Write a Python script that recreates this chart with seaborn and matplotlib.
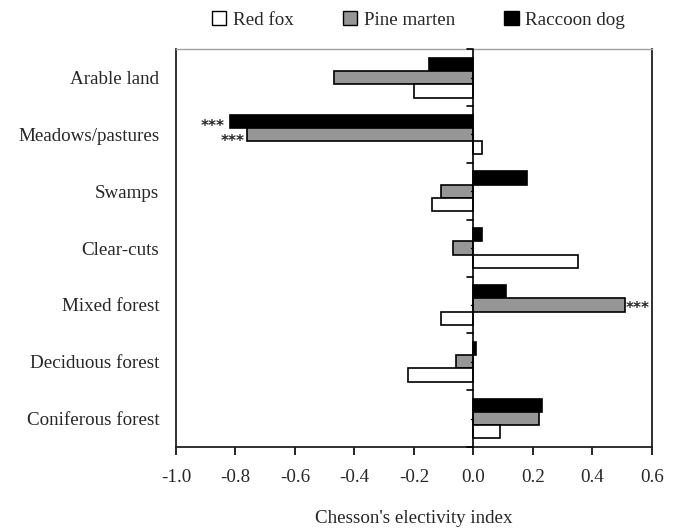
import pandas as pd
import seaborn as sns
import matplotlib.pyplot as plt
from matplotlib.patches import Patch

# habitat categories (top to bottom)
habitats = ['Arable land', 'Meadows/pastures', 'Swamps', 'Clear-cuts',
            'Mixed forest', 'Deciduous forest', 'Coniferous forest']
red_fox = [-0.20, 0.03, -0.14, 0.35, -0.11, -0.22, 0.09]
pine_marten = [-0.47, -0.76, -0.11, -0.07, 0.51, -0.06, 0.22]
raccoon_dog = [-0.15, -0.82, 0.18, 0.03, 0.11, 0.01, 0.23]

species = ['Raccoon dog', 'Pine marten', 'Red fox']
colors = {'Red fox': 'white', 'Pine marten': '#969696', 'Raccoon dog': 'black'}

df = pd.DataFrame({
    'habitat': habitats * 3,
    'species': ['Raccoon dog'] * 7 + ['Pine marten'] * 7 + ['Red fox'] * 7,
    'index': raccoon_dog + pine_marten + red_fox,
})

sns.set_style('white')
plt.rcParams['font.family'] = ['Liberation Serif', 'DejaVu Serif']
fs = 13.7

fig = plt.figure(figsize=(6.8, 5.29), dpi=100)
ax = fig.add_axes([0.2588, 0.155, 0.70, 0.752])

sns.barplot(data=df, x='index', y='habitat', hue='species', order=habitats,
            hue_order=species, palette=colors, width=0.7, orient='h',
            edgecolor='black', linewidth=1.2, legend=False, ax=ax)

ax.set_xlim(-1.0, 0.6)
ax.set_ylim(len(habitats) - 0.5, -0.5)
ax.set_xticks([-1.0, -0.8, -0.6, -0.4, -0.2, 0.0, 0.2, 0.4, 0.6])
ax.set_xticklabels(['-1.0', '-0.8', '-0.6', '-0.4', '-0.2', '0.0', '0.2', '0.4', '0.6'])
ax.tick_params(axis='x', direction='out', length=6, width=1.2, color='black',
               labelsize=fs, pad=10, bottom=True)
ax.tick_params(axis='y', length=0, labelsize=fs, pad=12)
ax.set_xlabel("Chesson's electivity index", fontsize=fs, labelpad=17)
ax.set_ylabel('')

# zero line with category ticks
ax.axvline(0, color='black', lw=1.2, zorder=3)
for k in range(len(habitats) + 1):
    ax.plot([-0.022, 0], [k - 0.5, k - 0.5], color='black', lw=1.2, clip_on=False, zorder=3)
for k in range(len(habitats)):
    ax.plot([-0.01, 0], [k, k], color='black', lw=1.0, zorder=3)

for side in ['left', 'bottom', 'right']:
    ax.spines[side].set_color('#202020')
    ax.spines[side].set_linewidth(1.3)
ax.spines['top'].set_color('#a0a0a0')
ax.spines['top'].set_linewidth(1.0)

# significance marks
star = dict(va='center', fontsize=11, fontweight='bold', family='DejaVu Sans')
ax.text(-0.835, 0.86, '***', ha='right', **star)
ax.text(-0.77, 1.12, '***', ha='right', **star)
ax.text(0.512, 4.06, '***', ha='left', **star)

handles = [Patch(facecolor=colors[s], edgecolor='black', linewidth=1.0, label=s)
           for s in ['Red fox', 'Pine marten', 'Raccoon dog']]
fig.legend(handles=handles, loc='center', bbox_to_anchor=(0.6154, 0.962), ncol=3,
           frameon=False, fontsize=fs, handlelength=0.75, handleheight=0.75,
           handletextpad=0.35, columnspacing=2.6)

fig.savefig('out.png', dpi=100)
